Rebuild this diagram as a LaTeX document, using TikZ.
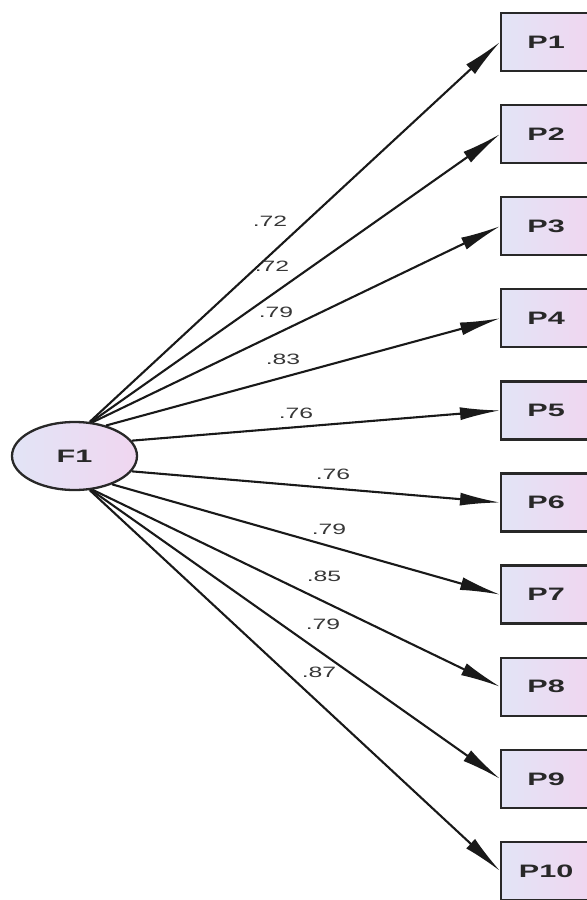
\documentclass[tikz,border=0pt]{standalone}
\usepackage{fontspec}
\setmainfont{Liberation Sans}
\usetikzlibrary{arrows.meta,shapes.geometric}
\definecolor{boxA}{RGB}{226,228,246}
\definecolor{boxB}{RGB}{240,214,240}
\definecolor{edgegray}{RGB}{40,40,40}
\definecolor{lblgray}{RGB}{55,55,55}
\newcommand\hstretch[2]{\scalebox{#1}[1]{#2}}
\begin{document}
\begin{tikzpicture}[x=1bp,y=-1bp,
  obs/.style={draw=edgegray,line width=2.3bp,left color=boxA,right color=boxB,
    minimum width=90bp,minimum height=58bp,inner sep=0pt,anchor=west,
    font=\fontsize{18bp}{20bp}\selectfont\bfseries,text=edgegray},
  lat/.style={ellipse,draw=edgegray,line width=2.3bp,left color=boxA,right color=boxB,
    minimum width=125bp,minimum height=68bp,inner sep=0pt,
    font=\fontsize{18bp}{20bp}\selectfont\bfseries,text=edgegray},
  load/.style={line width=2.1bp,draw=black!90,-{Latex[length=40bp,width=13bp]}},
  coef/.style={font=\fontsize{15bp}{16bp}\selectfont,text=lblgray,inner sep=0pt}]
\useasboundingbox (0,0) rectangle (587,900);

\node[lat] (F1) at (74.5,456) {\hstretch{1.7}{F1}};

\foreach \i in {1,...,10}{
  \node[obs] (P\i) at (500,{42+92.1*(\i-1)}) {\hstretch{1.7}{P\i}};
}

\draw[load] (F1.66)  -- (P1.west);
\draw[load] (F1.64)  -- (P2.west);
\draw[load] (F1.62)  -- (P3.west);
\draw[load] (F1.44)  -- (P4.west);
\draw[load] (F1.15)  -- (P5.west);
\draw[load] (F1.-15) -- (P6.west);
\draw[load] (F1.-37) -- (P7.west);
\draw[load] (F1.-62) -- (P8.west);
\draw[load] (F1.-64) -- (P9.west);
\draw[load] (F1.-66) -- (P10.west);

\node[coef] (c1)  at (270,221) {\hstretch{1.65}{.72}};
\node[coef] (c2)  at (272,266) {\hstretch{1.65}{.72}};
\node[coef] (c3)  at (276,312) {\hstretch{1.65}{.79}};
\node[coef] (c4)  at (283,359) {\hstretch{1.65}{.83}};
\node[coef] (c5)  at (296,413) {\hstretch{1.65}{.76}};
\node[coef] (c6)  at (333,474) {\hstretch{1.65}{.76}};
\node[coef] (c7)  at (329,529) {\hstretch{1.65}{.79}};
\node[coef] (c8)  at (324,576) {\hstretch{1.65}{.85}};
\node[coef] (c9)  at (323,624) {\hstretch{1.65}{.79}};
\node[coef] (c10) at (319,672) {\hstretch{1.65}{.87}};
\end{tikzpicture}
\end{document}
